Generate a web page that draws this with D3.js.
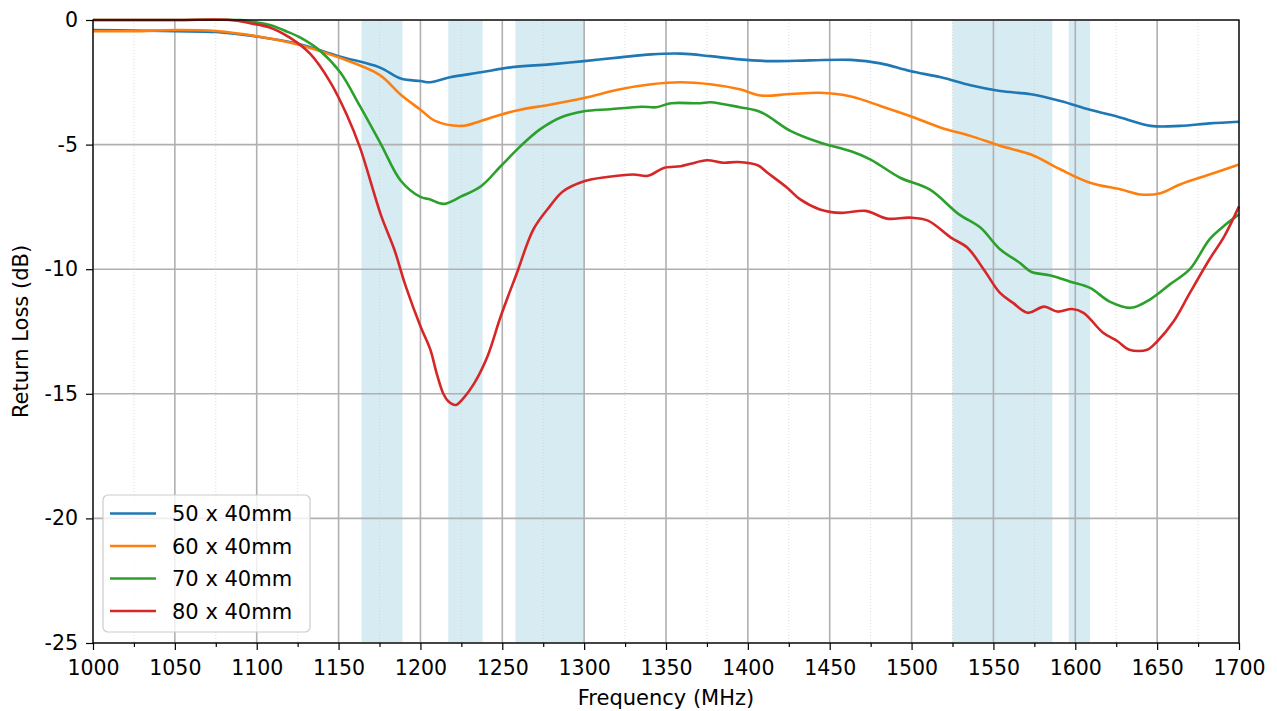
<!DOCTYPE html>
<html><head><meta charset="utf-8">
<script src="https://cdn.jsdelivr.net/npm/d3@7"></script>
<style>body{margin:0;background:#fff;} text{font-family:"DejaVu Sans",sans-serif;}</style>
</head><body>
<svg id="c" width="1277" height="711"></svg>
<script>
const seriesNames = ["50 x 40mm","60 x 40mm","70 x 40mm","80 x 40mm"];
const colors = ["#1f77b4","#ff7f0e","#2ca02c","#d62728"];
const bands = [[1164,1189],[1217,1238],[1258,1300],[1525,1586],[1596,1609]];
const xTicks = [1000,1050,1100,1150,1200,1250,1300,1350,1400,1450,1500,1550,1600,1650,1700];
const yTicks = [0,-5,-10,-15,-20,-25];

const s50 = [[1000,-0.4],[1025,-0.42],[1050,-0.45],[1075,-0.48],[1100,-0.66],[1125,-0.95],[1150,-1.45],[1175,-1.9],[1188,-2.35],[1200,-2.45],[1206,-2.5],[1218,-2.3],[1237,-2.1],[1255,-1.9],[1279,-1.78],[1300,-1.65],[1322,-1.5],[1341,-1.38],[1359,-1.35],[1377,-1.45],[1395,-1.58],[1414,-1.65],[1438,-1.62],[1463,-1.6],[1481,-1.74],[1499,-2.05],[1518,-2.3],[1536,-2.62],[1554,-2.85],[1573,-2.98],[1591,-3.25],[1609,-3.6],[1628,-3.92],[1646,-4.25],[1664,-4.25],[1682,-4.15],[1700,-4.08]];
const s60 = [[1000,-0.45],[1025,-0.45],[1050,-0.4],[1075,-0.44],[1100,-0.65],[1125,-0.98],[1150,-1.5],[1175,-2.2],[1188,-3.0],[1200,-3.6],[1209,-4.05],[1225,-4.25],[1237,-4.05],[1249,-3.8],[1261,-3.6],[1279,-3.4],[1300,-3.13],[1322,-2.78],[1341,-2.58],[1359,-2.5],[1377,-2.58],[1395,-2.78],[1408,-3.03],[1426,-2.97],[1444,-2.92],[1463,-3.07],[1481,-3.45],[1499,-3.85],[1518,-4.32],[1536,-4.65],[1554,-5.05],[1573,-5.4],[1591,-6.0],[1609,-6.53],[1628,-6.8],[1640,-7.0],[1652,-6.95],[1664,-6.6],[1682,-6.2],[1700,-5.8]];
const s70 = [[1000,0],[1050,0],[1090,0],[1096,-0.05],[1100,-0.1],[1108,-0.2],[1118,-0.45],[1127,-0.72],[1139,-1.25],[1151,-2.1],[1163,-3.45],[1176,-5.0],[1188,-6.45],[1200,-7.1],[1206,-7.2],[1214,-7.38],[1225,-7.08],[1237,-6.67],[1249,-5.87],[1261,-5.07],[1273,-4.39],[1286,-3.9],[1300,-3.66],[1316,-3.58],[1335,-3.48],[1344,-3.5],[1353,-3.34],[1371,-3.34],[1377,-3.3],[1395,-3.5],[1408,-3.7],[1426,-4.45],[1444,-4.92],[1463,-5.27],[1475,-5.6],[1493,-6.33],[1511,-6.8],[1529,-7.8],[1542,-8.33],[1554,-9.2],[1566,-9.74],[1573,-10.1],[1585,-10.25],[1597,-10.5],[1609,-10.75],[1621,-11.3],[1634,-11.55],[1646,-11.2],[1658,-10.6],[1670,-10.0],[1682,-8.8],[1692,-8.2],[1700,-7.8]];
const s80 = [[1000,0],[1050,0],[1084,0],[1096,-0.13],[1108,-0.3],[1120,-0.7],[1133,-1.38],[1145,-2.5],[1155,-3.8],[1163,-5.1],[1176,-7.85],[1184,-9.2],[1191,-10.68],[1200,-12.29],[1206,-13.22],[1210,-14.2],[1214,-15.0],[1217,-15.3],[1221.5,-15.45],[1225.5,-15.23],[1233,-14.56],[1241,-13.49],[1249,-11.9],[1259,-10.14],[1269,-8.4],[1279,-7.48],[1287,-6.88],[1300,-6.47],[1314,-6.3],[1330,-6.2],[1339,-6.25],[1349,-5.93],[1359,-5.87],[1365,-5.77],[1375,-5.63],[1385,-5.73],[1394,-5.7],[1406,-5.83],[1412,-6.13],[1424,-6.73],[1432,-7.2],[1444,-7.6],[1457,-7.74],[1472,-7.66],[1485,-7.97],[1499,-7.93],[1510,-8.05],[1524,-8.73],[1534,-9.13],[1544,-10.0],[1554,-10.95],[1562,-11.35],[1571,-11.75],[1581,-11.5],[1589,-11.7],[1598,-11.6],[1605,-11.75],[1617,-12.55],[1626,-12.9],[1633,-13.23],[1644,-13.23],[1650,-12.9],[1660,-12.1],[1670,-10.95],[1682,-9.6],[1691,-8.68],[1700,-7.48]];
const allSeries = [s50,s60,s70,s80];

const svg = d3.select("#c");
const m = {l:93, r:1277-1239, t:20, b:711-643};
const W = 1277, H = 711;
const x = d3.scaleLinear().domain([1000,1700]).range([m.l, W-m.r]);
const y = d3.scaleLinear().domain([-25,0]).range([H-m.b, m.t]);

// bands
svg.append("g").selectAll("rect").data(bands).join("rect")
  .attr("x", d=>x(d[0])).attr("width", d=>x(d[1])-x(d[0]))
  .attr("y", y(0)).attr("height", y(-25)-y(0))
  .attr("fill","#add8e6").attr("fill-opacity",0.5);

// minor grid
const minor = d3.range(1025,1700,50);
svg.append("g").selectAll("line").data(minor).join("line")
  .attr("x1",d=>x(d)).attr("x2",d=>x(d)).attr("y1",y(0)).attr("y2",y(-25))
  .attr("stroke","#d3d3d3").attr("stroke-width",0.8).attr("stroke-dasharray","1,2");
// major grid
svg.append("g").selectAll("line").data(xTicks).join("line")
  .attr("x1",d=>x(d)).attr("x2",d=>x(d)).attr("y1",y(0)).attr("y2",y(-25))
  .attr("stroke","#b0b0b0").attr("stroke-width",1.6);
svg.append("g").selectAll("line").data(yTicks).join("line")
  .attr("y1",d=>y(d)).attr("y2",d=>y(d)).attr("x1",x(1000)).attr("x2",x(1700))
  .attr("stroke","#b0b0b0").attr("stroke-width",1.6);

// lines
const line = d3.line().x(d=>x(d[0])).y(d=>y(d[1])).curve(d3.curveCatmullRom.alpha(0.5));
svg.append("g").selectAll("path").data(allSeries).join("path")
  .attr("d", line).attr("fill","none")
  .attr("stroke",(d,i)=>colors[i]).attr("stroke-width",2.6).attr("stroke-linejoin","round");

// axes
const xAxis = d3.axisBottom(x).tickValues(xTicks).tickFormat(d3.format("d")).tickSize(7).tickPadding(10);
const gx = svg.append("g").attr("transform",`translate(0,${y(-25)})`).call(xAxis);
const gxm = svg.append("g").attr("transform",`translate(0,${y(-25)})`)
  .call(d3.axisBottom(x).tickValues(minor).tickSize(4).tickFormat(""));
const yAxis = d3.axisLeft(y).tickValues(yTicks).tickFormat(d=>String(d)).tickSize(7).tickPadding(8);
const gy = svg.append("g").attr("transform",`translate(${x(1000)},0)`).call(yAxis);
[gx,gy,gxm].forEach(g=>{
  g.select(".domain").remove();
  g.selectAll("line").attr("stroke","#000").attr("stroke-width",1.2);
  g.selectAll("text").attr("font-size",20.5).attr("fill","#000").attr("font-family","DejaVu Sans");
});
// frame
svg.append("rect").attr("x",x(1000)).attr("y",y(0)).attr("width",x(1700)-x(1000)).attr("height",y(-25)-y(0))
  .attr("fill","none").attr("stroke","#000").attr("stroke-width",1.3);

// labels
svg.append("text").attr("x",(x(1000)+x(1700))/2).attr("y",705).attr("text-anchor","middle")
  .attr("font-size",21).text("Frequency (MHz)");
svg.append("text").attr("transform",`translate(28,${(y(0)+y(-25))/2}) rotate(-90)`).attr("text-anchor","middle")
  .attr("font-size",21).text("Return Loss (dB)");

// legend
const lg = svg.append("g").attr("transform","translate(103,495)");
lg.append("rect").attr("width",207).attr("height",137).attr("rx",5)
  .attr("fill","#fff").attr("fill-opacity",0.8).attr("stroke","#cccccc").attr("stroke-width",1.2);
seriesNames.forEach((n,i)=>{
  const yy = 18.5 + i*32.5;
  lg.append("line").attr("x1",7).attr("x2",53).attr("y1",yy).attr("y2",yy)
    .attr("stroke",colors[i]).attr("stroke-width",2.6);
  lg.append("text").attr("x",69).attr("y",yy+7.5).attr("font-size",21).text(n);
});
</script>
</body></html>
